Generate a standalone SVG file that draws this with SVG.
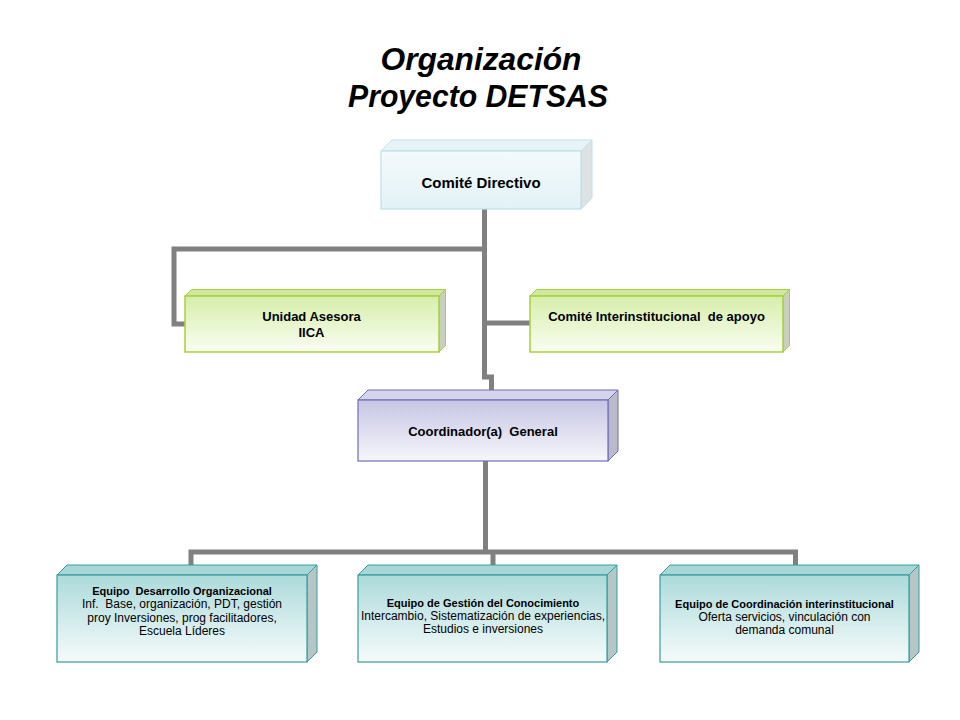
<svg xmlns="http://www.w3.org/2000/svg" width="960" height="720" viewBox="0 0 960 720">
<defs>
<linearGradient id="gBlue" x1="0" y1="0" x2="0" y2="1"><stop offset="0" stop-color="#f4fafc"/><stop offset="1" stop-color="#e2f2f6"/></linearGradient>
<linearGradient id="gGreen" x1="0" y1="0" x2="0" y2="1"><stop offset="0" stop-color="#d6eeaa"/><stop offset="1" stop-color="#fafdf2"/></linearGradient>
<linearGradient id="gPurple" x1="0" y1="0" x2="0" y2="1"><stop offset="0" stop-color="#c6c6e4"/><stop offset="1" stop-color="#f6f6fb"/></linearGradient>
<linearGradient id="gTeal" x1="0" y1="0" x2="0" y2="1"><stop offset="0" stop-color="#acdada"/><stop offset="1" stop-color="#f6fbfb"/></linearGradient>
</defs>
<style>
.t{font-family:"Liberation Sans",Arial,sans-serif;fill:#000;text-anchor:middle;white-space:pre}
.title{font-size:31px;font-weight:bold;font-style:italic}
.b{font-weight:bold}
.conn{fill:none;stroke:#808080;stroke-width:5;stroke-linejoin:miter;stroke-linecap:butt}
.blue .f{fill:url(#gBlue);stroke:#bfe0e8;stroke-width:1.2}
.blue .tp{fill:#e6f4f8;stroke:#bfe0e8;stroke-width:1}
.blue .sd{fill:#dde2e5;stroke:#bfe0e8;stroke-width:1}
.green .f{fill:url(#gGreen);stroke:#a8d040;stroke-width:1.5}
.green .tp{fill:#cfe99c;stroke:#a8d040;stroke-width:1}
.green .sd{fill:#c9cfbf;stroke:#a8d040;stroke-width:1}
.purple .f{fill:url(#gPurple);stroke:#6e6eb4;stroke-width:1.2}
.purple .tp{fill:#d4d4ec;stroke:#6e6eb4;stroke-width:1}
.purple .sd{fill:#babacb;stroke:#6e6eb4;stroke-width:1}
.teal .f{fill:url(#gTeal);stroke:#3a9c9c;stroke-width:1.2}
.teal .tp{fill:#a6d6d6;stroke:#3a9c9c;stroke-width:1}
.teal .sd{fill:#b4c6c6;stroke:#3a9c9c;stroke-width:1}
</style>
<rect width="960" height="720" fill="#fff"/>
<g id="title">
<text class="t title" x="481" y="70" textLength="201" lengthAdjust="spacingAndGlyphs">Organización</text>
<text class="t title" x="478" y="107" textLength="260" lengthAdjust="spacingAndGlyphs">Proyecto DETSAS</text>
</g>
<g id="connectors">
<path class="conn" d="M484.5 209 V377 H491.5 V390"/>
<path class="conn" d="M484.5 249 H174 V324 H185"/>
<path class="conn" d="M484.5 323 H530"/>
<path class="conn" d="M485.5 461 V552"/>
<path class="conn" d="M191 565 V552 H795.5 V565"/>
<path class="conn" d="M493 552 V565"/>
</g>
<g id="comite-directivo" class="blue">
<polygon class="tp" points="381,151 392,140 592,140 581,151"/>
<polygon class="sd" points="581,151 592,140 592,198 581,209"/>
<rect class="f" x="381" y="151" width="200" height="58"/>
<text class="t b" x="481" y="188" font-size="15">Comité Directivo</text>
</g>
<g id="unidad-asesora" class="green">
<polygon class="tp" points="185,296 191.5,289.5 445.5,289.5 439,296"/>
<polygon class="sd" points="439,296 445.5,289.5 445.5,345.5 439,352"/>
<rect class="f" x="185" y="296" width="254" height="56"/>
<text class="t b" x="311.5" y="321" font-size="13">Unidad Asesora</text>
<text class="t b" x="311.5" y="337" font-size="13">IICA</text>
</g>
<g id="comite-interinstitucional" class="green">
<polygon class="tp" points="530,296 536.5,289.5 789.5,289.5 783,296"/>
<polygon class="sd" points="783,296 789.5,289.5 789.5,345.5 783,352"/>
<rect class="f" x="530" y="296" width="253" height="56"/>
<text class="t b" x="656.5" y="321" font-size="13">Comité Interinstitucional  de apoyo</text>
</g>
<g id="coordinador" class="purple">
<polygon class="tp" points="358,400 368,390 618,390 608,400"/>
<polygon class="sd" points="608,400 618,390 618,451 608,461"/>
<rect class="f" x="358" y="400" width="250" height="61"/>
<text class="t b" x="483" y="436" font-size="13">Coordinador(a)  General</text>
</g>
<g id="equipo-desarrollo" class="teal">
<polygon class="tp" points="57,575 67,565 317,565 307,575"/>
<polygon class="sd" points="307,575 317,565 317,652 307,662"/>
<rect class="f" x="57" y="575" width="250" height="87"/>
<text class="t b" x="182" y="595" font-size="11">Equipo  Desarrollo Organizacional</text>
<text class="t" x="182" y="608" font-size="12">Inf.  Base, organización, PDT, gestión</text>
<text class="t" x="182" y="621.5" font-size="12">proy Inversiones, prog facilitadores,</text>
<text class="t" x="182" y="635" font-size="12">Escuela Líderes</text>
</g>
<g id="equipo-gestion" class="teal">
<polygon class="tp" points="358,575 368,565 617,565 607,575"/>
<polygon class="sd" points="607,575 617,565 617,652 607,662"/>
<rect class="f" x="358" y="575" width="249" height="87"/>
<text class="t b" x="483" y="607" font-size="11">Equipo de Gestión del Conocimiento</text>
<text class="t" x="483" y="620" font-size="12">Intercambio, Sistematización de experiencias,</text>
<text class="t" x="483" y="633" font-size="12">Estudios e inversiones</text>
</g>
<g id="equipo-coordinacion" class="teal">
<polygon class="tp" points="660,575 670,565 919,565 909,575"/>
<polygon class="sd" points="909,575 919,565 919,652 909,662"/>
<rect class="f" x="660" y="575" width="249" height="87"/>
<text class="t b" x="784.5" y="608" font-size="11">Equipo de Coordinación interinstitucional</text>
<text class="t" x="784.5" y="621" font-size="12">Oferta servicios, vinculación con</text>
<text class="t" x="784.5" y="634" font-size="12">demanda comunal</text>
</g>
</svg>
